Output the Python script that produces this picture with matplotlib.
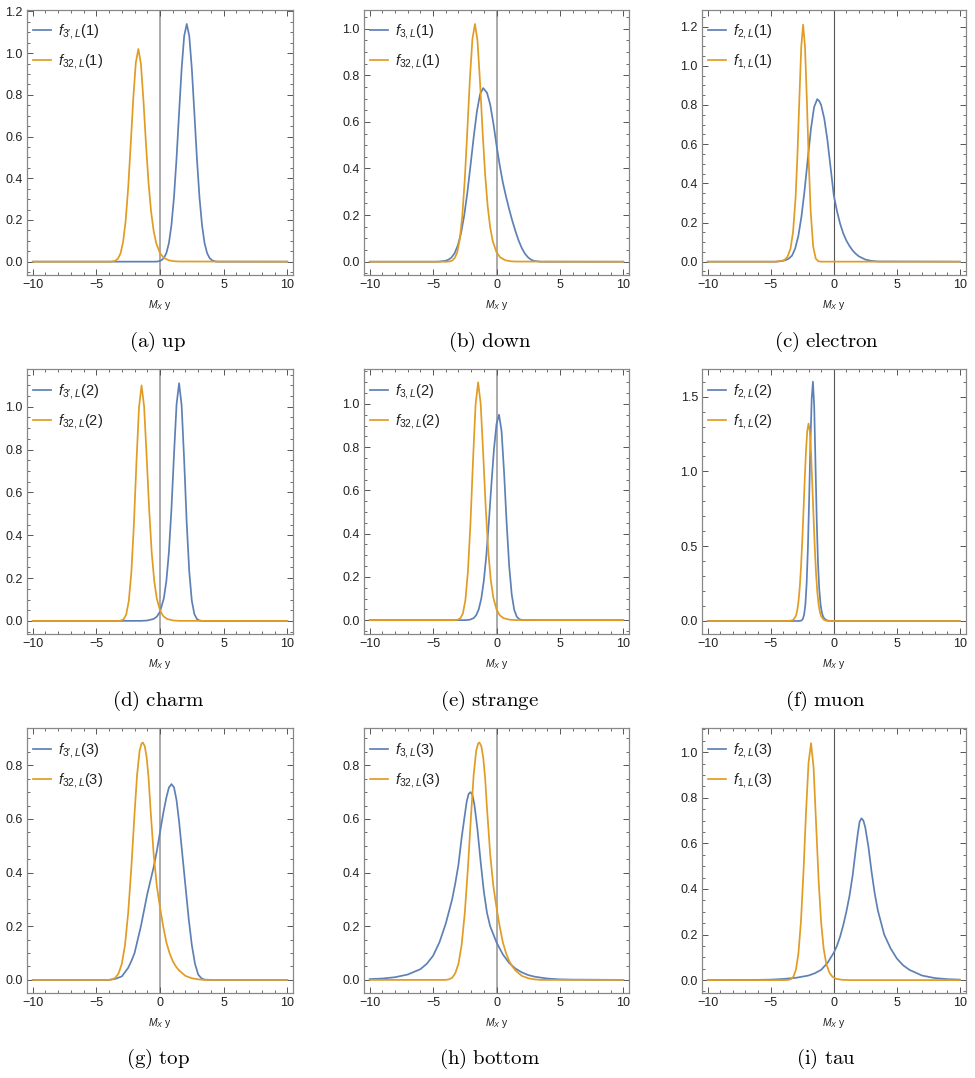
import numpy as np
import matplotlib
matplotlib.use("Agg")
import matplotlib.pyplot as plt
from matplotlib.ticker import MultipleLocator

plt.rcParams['font.family'] = ['Liberation Sans', 'DejaVu Sans']
plt.rcParams['mathtext.fontset'] = 'custom'
plt.rcParams['mathtext.rm'] = 'Liberation Sans'
plt.rcParams['mathtext.it'] = 'Liberation Sans:italic'
plt.rcParams['mathtext.bf'] = 'Liberation Sans:bold'

BLUE = '#5E81B5'
ORANGE = '#E19C24'

# ---------------- data ----------------
# f32,L(1)  (panels a, b)
x_f32_1 = [-10, -3.9, -3.7, -3.5, -3.3, -3.1, -2.9, -2.7, -2.5, -2.3, -2.1, -1.9, -1.7, -1.5, -1.3, -1.1, -0.9, -0.7, -0.5, -0.3, 0.0, 0.3, 0.7, 1.1, 1.5, 10]
y_f32_1 = [0, 0.0, 0.0013, 0.0048, 0.015, 0.04, 0.094, 0.195, 0.354, 0.563, 0.783, 0.955, 1.02, 0.949, 0.772, 0.562, 0.377, 0.24, 0.148, 0.089, 0.0405, 0.0183, 0.0062, 0.0021, 0.0007, 0]
# f3',L(1)  (panel a)
x_f3p_1 = [-10, -0.3, -0.1, 0.1, 0.3, 0.5, 0.7, 0.9, 1.1, 1.3, 1.5, 1.7, 1.9, 2.1, 2.3, 2.5, 2.7, 2.9, 3.1, 3.3, 3.5, 3.7, 3.9, 4.1, 4.3, 4.5, 10]
y_f3p_1 = [0, 0.0, 0.002, 0.0063, 0.017, 0.041, 0.089, 0.176, 0.31, 0.496, 0.714, 0.926, 1.082, 1.14, 1.082, 0.926, 0.714, 0.496, 0.31, 0.176, 0.089, 0.041, 0.017, 0.0063, 0.002, 0.0, 0]
# f3,L(1)  (panel b)
x_f3_1 = [-10, -4.8, -4.55, -4.05, -3.8, -3.55, -3.3, -3.05, -2.8, -2.55, -2.3, -2.05, -1.8, -1.55, -1.3, -1.05, -0.75, -0.5, -0.25, 0.0, 0.25, 0.5, 0.75, 1.0, 1.25, 1.5, 1.75, 2.0, 2.25, 2.5, 2.75, 3.0, 3.5, 10]
y_f3_1 = [0, 0.0, 0.0005, 0.0036, 0.0085, 0.018, 0.037, 0.07, 0.122, 0.197, 0.296, 0.413, 0.534, 0.643, 0.718, 0.745, 0.725, 0.675, 0.595, 0.5, 0.415, 0.34, 0.28, 0.225, 0.175, 0.13, 0.09, 0.058, 0.034, 0.018, 0.008, 0.003, 0.0, 0]
# f1,L(1)  (panel c)
x_f1_1 = [-10, -4.9, -4.63, -4.23, -3.93, -3.68, -3.43, -3.23, -3.03, -2.88, -2.73, -2.58, -2.43, -2.28, -2.13, -1.98, -1.83, -1.63, -1.43, -1.23, -1.03, 10]
y_f1_1 = [0, 0.0, 0.0004, 0.0023, 0.0081, 0.0235, 0.0667, 0.151, 0.324, 0.544, 0.826, 1.095, 1.21, 1.097, 0.821, 0.505, 0.256, 0.076, 0.016, 0.0024, 0.0002, 0]
# f2,L(1)  (panel c)
x_f2_1 = [-10, -4.6, -4.31, -4.06, -3.81, -3.56, -3.31, -3.06, -2.81, -2.56, -2.31, -2.06, -1.81, -1.56, -1.31, -1.15, -1.0, -0.75, -0.5, -0.25, 0.0, 0.25, 0.5, 0.75, 1.0, 1.25, 1.5, 1.75, 2.0, 2.5, 3.0, 3.5, 10]
y_f2_1 = [0, 0.0, 0.002, 0.004, 0.008, 0.016, 0.031, 0.067, 0.131, 0.231, 0.366, 0.524, 0.677, 0.789, 0.83, 0.82, 0.8, 0.73, 0.62, 0.48, 0.34, 0.26, 0.195, 0.145, 0.108, 0.08, 0.057, 0.04, 0.027, 0.011, 0.004, 0.001, 0]
# f32,L(2)  (panels d, e)
x_f32_2 = [-10, -3.45, -3.25, -3.05, -2.85, -2.65, -2.45, -2.25, -2.05, -1.85, -1.65, -1.45, -1.25, -1.05, -0.85, -0.65, -0.45, -0.25, 0.0, 0.25, 0.55, 1.05, 1.55, 10]
y_f32_2 = [0, 0.0, 0.0003, 0.002, 0.0087, 0.031, 0.094, 0.227, 0.452, 0.742, 0.997, 1.1, 1.002, 0.77, 0.519, 0.318, 0.185, 0.104, 0.05, 0.023, 0.0093, 0.002, 0.0004, 0]
# f3',L(2)  (panel d)
x_f3p_2 = [-10, -1.5, -1.0, -0.5, -0.25, 0.0, 0.3, 0.5, 0.7, 0.9, 1.1, 1.3, 1.5, 1.7, 1.9, 2.1, 2.3, 2.5, 2.7, 2.9, 3.1, 3.3, 3.5, 10]
y_f3p_2 = [0, 0.0004, 0.002, 0.0093, 0.02, 0.043, 0.105, 0.186, 0.321, 0.524, 0.777, 1.011, 1.11, 1.006, 0.748, 0.456, 0.229, 0.094, 0.032, 0.0088, 0.002, 0.0003, 0.0, 0]
# f3,L(2)  (panel e)
x_f3_2 = [-10, -2.6, -2.4, -2.1, -1.8, -1.6, -1.4, -1.2, -1.0, -0.8, -0.6, -0.4, -0.2, 0.0, 0.2, 0.4, 0.6, 0.8, 1.0, 1.2, 1.4, 1.6, 1.8, 2.0, 2.2, 10]
y_f3_2 = [0, 0.0, 0.0004, 0.0022, 0.0095, 0.023, 0.05, 0.1, 0.182, 0.301, 0.456, 0.629, 0.79, 0.907, 0.95, 0.874, 0.681, 0.449, 0.251, 0.119, 0.047, 0.016, 0.0045, 0.0011, 0.0, 0]
# f2,L(2)  (panel f)
x_f2_2 = [-10, -2.85, -2.65, -2.55, -2.45, -2.35, -2.25, -2.15, -2.05, -1.95, -1.85, -1.75, -1.65, -1.55, -1.45, -1.35, -1.25, -1.15, -1.05, -0.95, -0.85, -0.75, -0.55, -0.35, -0.15, 10]
y_f2_2 = [0, 0.0, 0.001, 0.004, 0.014, 0.043, 0.11, 0.251, 0.49, 0.822, 1.19, 1.486, 1.6, 1.435, 1.056, 0.672, 0.389, 0.213, 0.113, 0.059, 0.031, 0.016, 0.0042, 0.001, 0.0, 0]
# f1,L(2)  (panel f)
x_f1_2 = [-10, -3.8, -3.6, -3.4, -3.2, -3.0, -2.9, -2.8, -2.7, -2.6, -2.5, -2.4, -2.3, -2.2, -2.1, -2.0, -1.9, -1.8, -1.7, -1.6, -1.5, -1.4, -1.3, -1.2, -1.1, -1.0, -0.8, -0.6, -0.4, 10]
y_f1_2 = [0, 0.0, 0.0005, 0.002, 0.008, 0.034, 0.069, 0.128, 0.221, 0.355, 0.53, 0.735, 0.951, 1.14, 1.272, 1.32, 1.27, 1.12, 0.91, 0.69, 0.48, 0.31, 0.19, 0.11, 0.06, 0.032, 0.009, 0.002, 0.0, 0]
# f32,L(3)  (panels g, h)
x_f32_3 = [-10, -4.0, -3.75, -3.5, -3.25, -3.0, -2.75, -2.5, -2.25, -2.0, -1.8, -1.6, -1.45, -1.35, -1.2, -1.05, -0.9, -0.75, -0.5, -0.25, 0.0, 0.25, 0.5, 0.75, 1.0, 1.25, 1.5, 2.0, 2.5, 3.0, 3.5, 10]
y_f32_3 = [0, 0.0, 0.002, 0.008, 0.025, 0.06, 0.13, 0.25, 0.42, 0.62, 0.765, 0.855, 0.881, 0.885, 0.872, 0.83, 0.755, 0.64, 0.47, 0.35, 0.27, 0.2, 0.14, 0.1, 0.07, 0.05, 0.035, 0.015, 0.006, 0.002, 0.0, 0]
# f3',L(3)  (panel g)
x_f3p_3 = [-10, -4.0, -3.5, -3.0, -2.5, -2.25, -2.0, -1.75, -1.5, -1.25, -1.0, -0.75, -0.5, -0.25, 0.0, 0.25, 0.5, 0.7, 0.9, 1.1, 1.3, 1.5, 1.75, 2.0, 2.25, 2.5, 2.75, 3.0, 3.25, 3.5, 4.0, 10]
y_f3p_3 = [0, 0.0, 0.004, 0.013, 0.045, 0.07, 0.1, 0.15, 0.2, 0.26, 0.32, 0.37, 0.42, 0.48, 0.55, 0.62, 0.68, 0.717, 0.73, 0.718, 0.67, 0.59, 0.47, 0.35, 0.23, 0.13, 0.06, 0.02, 0.006, 0.001, 0.0, 0]
# f3,L(3)  (panel h)
x_f3_3 = [-10, -9, -8, -7, -6, -5.5, -5.0, -4.5, -4.0, -3.5, -3.25, -3.0, -2.75, -2.5, -2.35, -2.2, -2.05, -1.9, -1.75, -1.6, -1.5, -1.25, -1.0, -0.75, -0.5, -0.25, 0.0, 0.5, 1.0, 1.5, 2.0, 2.5, 3.0, 4.0, 5.0, 6.0, 10]
y_f3_3 = [0.003, 0.005, 0.01, 0.02, 0.04, 0.06, 0.09, 0.14, 0.21, 0.3, 0.36, 0.43, 0.53, 0.615, 0.665, 0.693, 0.7, 0.69, 0.655, 0.6, 0.56, 0.44, 0.33, 0.25, 0.2, 0.17, 0.14, 0.095, 0.063, 0.042, 0.028, 0.018, 0.012, 0.005, 0.002, 0.001, 0]
# f1,L(3)  (panel i)
x_f1_3 = [-10, -3.8, -3.6, -3.4, -3.2, -3.0, -2.8, -2.6, -2.4, -2.2, -2.0, -1.8, -1.6, -1.4, -1.2, -1.0, -0.8, -0.6, -0.35, -0.1, 0.2, 0.7, 1.2, 10]
y_f1_3 = [0, 0.0, 0.001, 0.004, 0.0148, 0.0456, 0.118, 0.259, 0.476, 0.735, 0.954, 1.04, 0.933, 0.686, 0.437, 0.253, 0.138, 0.0735, 0.033, 0.0143, 0.0053, 0.001, 0.0, 0]
# f2,L(3)  (panel i)
x_f2_3 = [-10, -6, -5, -4, -3, -2, -1.5, -1.0, -0.5, 0.0, 0.25, 0.5, 0.75, 1.0, 1.25, 1.5, 1.75, 1.9, 2.05, 2.2, 2.35, 2.5, 2.75, 3.0, 3.25, 3.5, 4.0, 4.5, 5.0, 5.5, 6.0, 7.0, 8.0, 9.0, 10]
y_f2_3 = [0.0, 0.001, 0.002, 0.005, 0.01, 0.02, 0.03, 0.045, 0.075, 0.12, 0.15, 0.19, 0.24, 0.3, 0.37, 0.46, 0.575, 0.64, 0.695, 0.71, 0.70, 0.67, 0.585, 0.475, 0.38, 0.305, 0.2, 0.14, 0.095, 0.065, 0.045, 0.02, 0.009, 0.004, 0.002]

captions = ['(a) up', '(b) down', '(c) electron',
            '(d) charm', '(e) strange', '(f) muon',
            '(g) top', '(h) bottom', '(i) tau']
blue_labels = [r"$f_{3\prime,L}(1)$", r"$f_{3,L}(1)$", r"$f_{2,L}(1)$",
               r"$f_{3\prime,L}(2)$", r"$f_{3,L}(2)$", r"$f_{2,L}(2)$",
               r"$f_{3\prime,L}(3)$", r"$f_{3,L}(3)$", r"$f_{2,L}(3)$"]
orange_labels = [r"$f_{32,L}(1)$", r"$f_{32,L}(1)$", r"$f_{1,L}(1)$",
                 r"$f_{32,L}(2)$", r"$f_{32,L}(2)$", r"$f_{1,L}(2)$",
                 r"$f_{32,L}(3)$", r"$f_{32,L}(3)$", r"$f_{1,L}(3)$"]
blue_series = [(x_f3p_1, y_f3p_1), (x_f3_1, y_f3_1), (x_f2_1, y_f2_1),
               (x_f3p_2, y_f3p_2), (x_f3_2, y_f3_2), (x_f2_2, y_f2_2),
               (x_f3p_3, y_f3p_3), (x_f3_3, y_f3_3), (x_f2_3, y_f2_3)]
orange_series = [(x_f32_1, y_f32_1), (x_f32_1, y_f32_1), (x_f1_1, y_f1_1),
                 (x_f32_2, y_f32_2), (x_f32_2, y_f32_2), (x_f1_2, y_f1_2),
                 (x_f32_3, y_f32_3), (x_f32_3, y_f32_3), (x_f1_3, y_f1_3)]

# ---------------- layout / style ----------------
W, H = 975, 1078
fig = plt.figure(figsize=(W / 100, H / 100), dpi=100)

col_lr = [(27, 293), (364, 629), (702, 965.5)]
row_tb = [(10, 275), (369.3, 634), (728.3, 993.3)]
ylims = [(-0.064, 1.207), (-0.057, 1.08), (-0.068, 1.285),
         (-0.061, 1.175), (-0.064, 1.16), (-0.087, 1.683),
         (-0.05, 0.938), (-0.05, 0.938), (-0.058, 1.105)]
ymajor = [0.2, 0.2, 0.2, 0.2, 0.2, 0.5, 0.2, 0.2, 0.2]
yminor = [0.05, 0.05, 0.05, 0.05, 0.05, 0.1, 0.05, 0.05, 0.05]
vline_style = [('#aaaaaa', 1.4), ('#aaaaaa', 1.4), ('#555555', 0.8)]
cap_x = [158, 490, 826]
cap_y = [342, 701, 1059]

for i in range(9):
    r, c = divmod(i, 3)
    l, rr = col_lr[c]
    t, b = row_tb[r]
    ax = fig.add_axes([l / W, 1 - b / H, (rr - l) / W, (b - t) / H])
    ax.set_xlim(-10.45, 10.45)
    ax.set_ylim(*ylims[i])
    vc, vw = vline_style[c]
    ax.axvline(0, color=vc, lw=vw, zorder=1)
    bx, by = blue_series[i]
    ox, oy = orange_series[i]
    ax.plot(bx, by, color=BLUE, lw=1.25, label=blue_labels[i], zorder=3,
            solid_joinstyle='round')
    ax.plot(ox, oy, color=ORANGE, lw=1.25, label=orange_labels[i], zorder=4,
            solid_joinstyle='round')
    ax.xaxis.set_major_locator(MultipleLocator(5))
    ax.xaxis.set_minor_locator(MultipleLocator(1))
    ax.yaxis.set_major_locator(MultipleLocator(ymajor[i]))
    ax.yaxis.set_minor_locator(MultipleLocator(yminor[i]))
    ax.yaxis.set_major_formatter(matplotlib.ticker.FormatStrFormatter('%.1f'))
    ax.tick_params(which='both', direction='in', top=True, right=True,
                   colors='#555555', labelcolor='#222222', labelsize=9)
    ax.tick_params(which='major', length=4, width=0.7, pad=3)
    ax.tick_params(which='minor', length=2.2, width=0.6)
    for s in ax.spines.values():
        s.set_color('#888888')
        s.set_linewidth(0.9)
    ax.set_xlabel(r'$M_X$ y', fontsize=7.5, labelpad=5, color='#222222')
    leg = ax.legend(loc='upper left', bbox_to_anchor=(0.0, 0.975),
                    frameon=False, fontsize=10.5, handlelength=1.25,
                    handletextpad=0.5, labelspacing=0.75, borderaxespad=0.2,
                    borderpad=0.2)
    for txt in leg.get_texts():
        txt.set_color('#222222')
    fig.text(cap_x[c] / W, 1 - cap_y[r] / H, r'$\mathrm{' + captions[i].replace(' ', r'\ ') + '}$',
             ha='center', va='center', fontsize=15, math_fontfamily='cm')

fig.savefig('out.png', dpi=100)
